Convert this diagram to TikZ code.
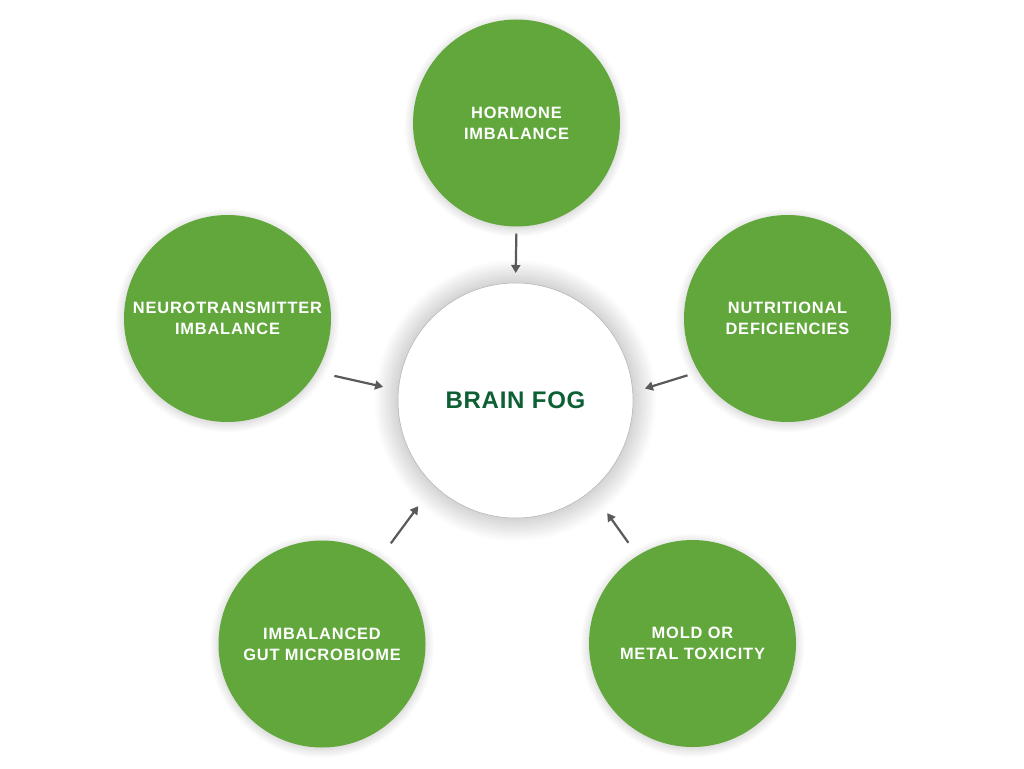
\documentclass[tikz,border=0pt]{standalone}
\usepackage{fontspec}
\setmainfont{Liberation Sans}
\usepackage{xcolor}
\usetikzlibrary{arrows.meta,shadows.blur}

\definecolor{leafgreen}{HTML}{62A73C}
\definecolor{foggreen}{HTML}{0D5F34}
\definecolor{arrowgray}{HTML}{5A5A5A}
\newfontfamily\causefont[LetterSpace=5]{Liberation Sans Bold}
\newfontfamily\fogfont[LetterSpace=3]{Liberation Sans Bold}

\tikzset{
  cause/.style={circle, fill=leafgreen, text=white, align=center, inner sep=0pt, outer sep=0pt,
    minimum size=207pt, font=\causefont\fontsize{16.4}{21}\selectfont,
    blur shadow={shadow xshift=0pt, shadow yshift=-2pt, shadow blur radius=9pt, shadow blur steps=20, shadow opacity=22}},
  feeds/.style={draw=arrowgray, line width=2.2pt, -{Triangle[length=8pt,width=9pt]}}
}

\begin{document}
\begin{tikzpicture}[x=1pt, y=-1pt]
\useasboundingbox (0,0) rectangle (1024,768);
\node[circle, fill=white, draw=black!30, line width=0.5pt, inner sep=0pt, outer sep=0pt, minimum size=235pt,
  text=foggreen, font=\fogfont\fontsize{24}{28}\selectfont,
  blur shadow={shadow xshift=0pt, shadow yshift=0pt, shadow blur radius=24pt, shadow blur steps=40, shadow opacity=35}] (fog) at (515.5,400.5) {BRAIN FOG};
\node[cause] (hormone) at (516.5,123) {HORMONE\\IMBALANCE};
\node[cause] (neuro) at (227.5,318.5) {NEUROTRANSMITTER\\IMBALANCE};
\node[cause] (nutrition) at (787.5,318.5) {NUTRITIONAL\\DEFICIENCIES};
\node[cause] (gut) at (322,644) {IMBALANCED\\GUT MICROBIOME};
\node[cause] (mold) at (692.5,643.5) {MOLD OR\\METAL TOXICITY};
% arrows into the centre
\draw[feeds, shorten <=7pt, shorten >=10pt] (hormone.-90) -- (fog.90);
\draw[feeds, shorten <=18.6pt, shorten >=15.8pt] (neuro.-31.4) -- (fog.175.7);
\draw[feeds, shorten <=11.8pt, shorten >=12.8pt] (nutrition.211.6) -- (fog.4.4);
\draw[feeds, shorten <=18.4pt, shorten >=26.3pt] (gut.56.3) -- (fog.226.8);
\draw[feeds, shorten <=15.9pt, shorten >=27.8pt] (mold.122.2) -- (fog.-50.1);
\end{tikzpicture}
\end{document}
